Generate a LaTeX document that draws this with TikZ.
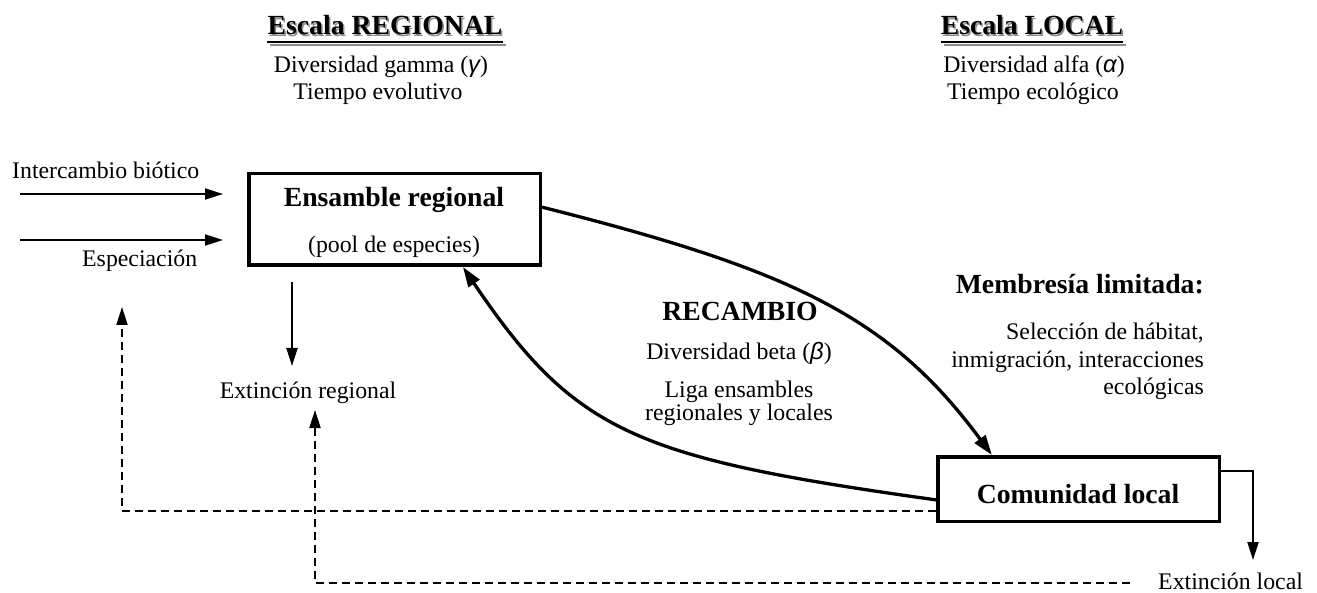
\documentclass[tikz,border=0pt]{standalone}
\usepackage{fontspec}
\setmainfont{Liberation Serif}
\newfontfamily\greekfont{Liberation Sans}
\usetikzlibrary{arrows.meta,calc}
\newcommand\greekit[1]{{\greekfont\itshape #1}}

\tikzset{
  reg/.style={inner sep=0pt, anchor=base, font=\fontsize{23.8}{26}\selectfont},
  hd/.style={inner sep=0pt, anchor=base, font=\fontsize{27.7}{30}\selectfont\bfseries},
  boxnode/.style={draw, line width=3.5pt, rectangle, inner sep=0pt},
  thinarrow/.style={line width=2pt, -{Triangle[length=18pt,width=11pt]}},
  curvearrow/.style={line width=3.3pt, -{Triangle[length=20pt,width=13pt]}},
  dasharrow/.style={line width=2pt, dash pattern=on 8pt off 5pt, -{Triangle[length=18pt,width=11pt]}},
  shadowtext/.style={text=black!45},
}

\begin{document}
\begin{tikzpicture}[x=1pt, y=-1pt]
\useasboundingbox[fill=white] (0,0) rectangle (1317,593);

% ---- scale headings (with soft shadow and underline)
\node[hd, shadowtext] (regshadow) at (386.5,36.5) {Escala REGIONAL};
\draw[line width=2.2pt, black!45] ([shift={(1.5pt,-8.5pt)}]regshadow.base west) -- ([shift={(1.5pt,-8.5pt)}]regshadow.base east);
\node[hd] (regtitle) at (385,35) {Escala REGIONAL};
\draw[line width=2.2pt] ([yshift=-7pt]regtitle.base west) -- ([yshift=-7pt]regtitle.base east);
\node[reg] (gamma) at (381,73) {Diversidad gamma (\greekit{γ})};
\node[reg] (tevol) at (378,100) {Tiempo evolutivo};

\node[hd, shadowtext] (locshadow) at (1033.5,36.5) {Escala LOCAL};
\draw[line width=2.2pt, black!45] ([shift={(1.5pt,-8.5pt)}]locshadow.base west) -- ([shift={(1.5pt,-8.5pt)}]locshadow.base east);
\node[hd] (loctitle) at (1032,35) {Escala LOCAL};
\draw[line width=2.2pt] ([yshift=-7pt]loctitle.base west) -- ([yshift=-7pt]loctitle.base east);
\node[reg] (alfa) at (1034,73) {Diversidad alfa (\greekit{α})};
\node[reg] (teco) at (1033,100) {Tiempo ecológico};

% ---- regional pool
\node[boxnode, minimum width=291.5pt, minimum height=91.5pt] (ens) at (394.5,219.5) {};
\node[hd] (enstitle) at (394,207) {Ensamble regional};
\node[reg] (enssub) at (394,253) {(pool de especies)};

\node[reg, anchor=base west] (interc) at (12,179) {Intercambio biótico};
\node[reg, anchor=base west] (espec) at (82,267) {Especiación};
\coordinate (in1s) at (20,194);
\coordinate (in1e) at (223,194);
\coordinate (in2s) at (20,240);
\coordinate (in2e) at (223,240);
\draw[thinarrow] (in1s) -- (in1e);
\draw[thinarrow] (in2s) -- (in2e);

\coordinate (extrs) at (292,282);
\coordinate (extre) at (292,366);
\draw[thinarrow] (extrs) -- (extre);
\node[reg] (extreg) at (308,399) {Extinción regional};

% ---- local community
\node[boxnode, minimum width=281.5pt, minimum height=64.5pt] (com) at (1078.5,489) {};
\node[hd] (comtitle) at (1078,503) {Comunidad local};

\coordinate (extlc) at (1253,560);
\draw[line width=2pt, -{Triangle[length=18pt,width=11pt]}]
  ($(com.north east)!0.235!(com.south east)$) -| (extlc);
\node[reg, anchor=base west] (extloc) at (1158,589) {Extinción local};

% ---- turnover between scales
\draw[curvearrow] ($(ens.north east)!0.37!(ens.south east)$)
  .. controls (792,270) and (890,317) .. ($(com.north west)!0.196!(com.north east)$);
\draw[curvearrow] ($(com.north west)!0.66!(com.south west)$)
  .. controls (636,458) and (575,433) .. ($(ens.south west)!0.732!(ens.south east)$);

\node[hd] (recambio) at (740,321) {RECAMBIO};
\node[reg] (beta) at (739,360) {Diversidad beta (\greekit{β})};
\node[reg] (liga1) at (739,398) {Liga ensambles};
\node[reg] (liga2) at (739,420) {regionales y locales};

\node[hd, anchor=base east] (memb) at (1204,294) {Membresía limitada:};
\node[reg, anchor=base east] (sel1) at (1204,340) {Selección de hábitat,};
\node[reg, anchor=base east] (sel2) at (1204,367) {inmigración, interacciones};
\node[reg, anchor=base east] (sel3) at (1204,395) {ecológicas};

% ---- feedback of local extinction (dashed)
\coordinate (fb1) at (122,307);
\draw[dasharrow] ($(com.north west)!0.82!(com.south west)$) -| (fb1);
\coordinate (fb2s) at (1130,583);
\coordinate (fb2) at (315,410);
\draw[dasharrow] (fb2s) -| (fb2);
\end{tikzpicture}
\end{document}
